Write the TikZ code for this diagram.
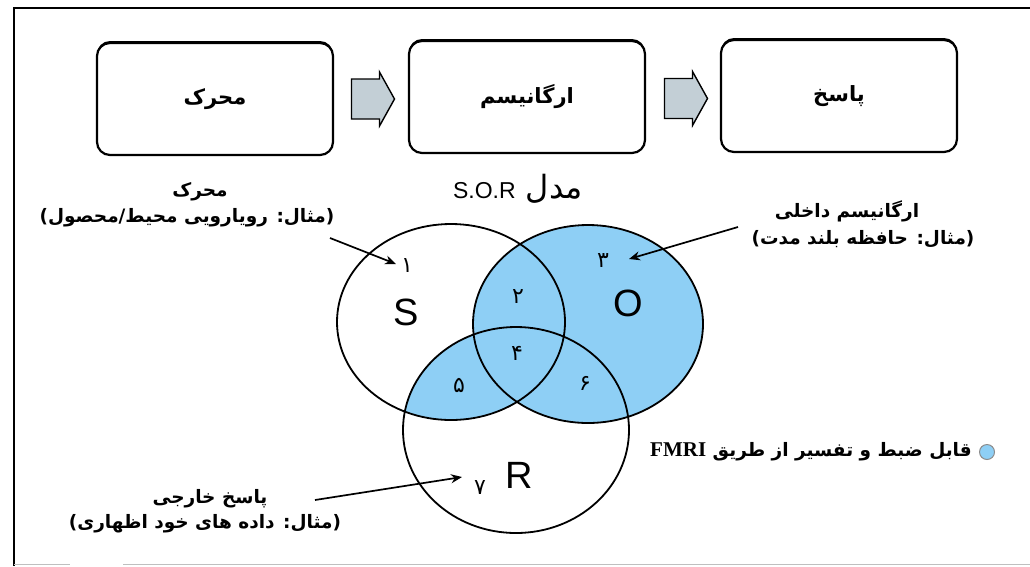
\documentclass[tikz,border=0pt]{standalone}
\usepackage{fontspec}
\newfontfamily\fa[Script=Arabic]{DejaVu Sans}
\newfontfamily\lat{Liberation Sans}
\newfontfamily\latserif{Liberation Serif}
\TeXXeTstate=1
\usetikzlibrary{arrows.meta,calc,shadows}
\definecolor{venn}{RGB}{142,207,245}
\definecolor{arrowfill}{RGB}{195,207,214}
\newcommand\blockarrow[1]{%
  \draw[line width=1.4pt, fill=arrowfill, line join=miter]
    ($(#1)+(-21.5,-20)$) -- ++(28,0) -- ++(0,-7) -- ++(15,27) -- ++(-15,27) -- ++(0,-7) -- ++(-28,0) -- cycle;}
\begin{document}
\begin{tikzpicture}[x=1pt,y=-1pt,
  box/.style={draw, line width=2.2pt, rounded corners=13pt, minimum width=236pt, minimum height=112pt,
    fill=white, font=\fa\bfseries\fontsize{21}{23}\selectfont,
    drop shadow={shadow xshift=0pt, shadow yshift=2pt, opacity=1, fill=black}},
  captext/.style={font=\fa\bfseries\fontsize{18.5}{20}\selectfont, inner sep=1pt},
  num/.style={font=\fa\fontsize{22}{24}\selectfont, inner sep=1pt},
  big/.style={font=\lat\fontsize{38}{42}\selectfont, inner sep=1pt},
  venn line/.style={line width=1.8pt},
  ptr/.style={line width=1.7pt, -{Stealth[length=11pt,width=9pt]}}]
\useasboundingbox (0,0) rectangle (1030,566);
% frame
\draw[line width=1.5pt] (14,566) -- (14,8) -- (1030,8);
\draw[black!25, line width=1pt] (14,564) -- (70,564) (123,564) -- (1030,564);
% top boxes
\node[box] (b1) at (215,99) {\beginR محرک\endR};
\node[box] (b2) at (527,97) {\beginR ارگانیسم\endR};
\node[box] (b3) at (839,96) {\beginR پاسخ\endR};
\coordinate (m1) at ($($(b1.east)!0.5!(b2.west)$)+(2,1)$);
\coordinate (m2) at ($($(b2.east)!0.5!(b3.west)$)+(3,2)$);
\blockarrow{m1}
\blockarrow{m2}
% title
\node (title) at (518,189) {\fa\fontsize{32}{34}\selectfont\beginR مدل {\lat\fontsize{23}{26}\selectfont\beginL S.O.R\endL}\endR};
% venn
\coordinate (cS) at (451,322);
\coordinate (cO) at (588,324);
\coordinate (cR) at (516,430);
\fill[venn] (cO) ellipse [x radius=115pt, y radius=99pt];
\begin{scope}
  \clip (cS) ellipse [x radius=114pt, y radius=98pt];
  \fill[venn] (cR) ellipse [x radius=113pt, y radius=103pt];
\end{scope}
\draw[venn line] (cS) ellipse [x radius=114pt, y radius=98pt];
\draw[venn line] (cO) ellipse [x radius=115pt, y radius=99pt];
\draw[venn line] (cR) ellipse [x radius=113pt, y radius=103pt];
\node[big] (lS) at (406,312) {S};
\node[big] (lO) at (628,303) {O};
\node[big] (lR) at (519,475) {R};
\node[num] (n1) at (407,266) {۱};
\node[num] (n2) at (518,297) {۲};
\node[num] (n3) at (603,261) {۳};
\node[num] (n4) at (517,353) {۴};
\node[num] (n5) at (459,385) {۵};
\node[num] (n6) at (585,383) {۶};
\node[num] (n7) at (480,488) {۷};
% captions
\node[captext] (cs1) at (200,192) {\beginR محرک\endR};
\node[captext] (cs2) at (187,218) {\beginR (مثال: رویارویی محیط/محصول)\endR};
\node[captext] (co1) at (847,211) {\beginR ارگانیسم داخلی\endR};
\node[captext] (co2) at (863,239) {\beginR (مثال: حافظه بلند مدت)\endR};
\node[captext] (cr1) at (210,499) {\beginR پاسخ خارجی\endR};
\node[captext] (cr2) at (205,524) {\beginR (مثال: داده های خود اظهاری)\endR};
% pointers
\coordinate (p1s) at (330,238);
\coordinate (p1e) at (396,264);
\coordinate (p3s) at (738,227);
\coordinate (p3e) at (629,259);
\coordinate (p7s) at (315,500);
\coordinate (p7e) at (462,477);
\draw[ptr] (p1s) -- (p1e);
\draw[ptr] (p3s) -- (p3e);
\draw[ptr] (p7s) -- (p7e);
% legend
\node[draw=black!45, fill=venn, circle, minimum size=15pt, inner sep=0pt, line width=1pt] (lg) at (987,452) {};
\node[anchor=east, font=\fa\bfseries\fontsize{18.5}{21}\selectfont, inner sep=0pt] (lgt) at ($(lg.west)+(-7,0)$)
  {\beginR قابل ضبط و تفسیر از طریق {\latserif\bfseries\fontsize{21}{22}\selectfont\beginL FMRI\endL}\endR};
\end{tikzpicture}
\end{document}
